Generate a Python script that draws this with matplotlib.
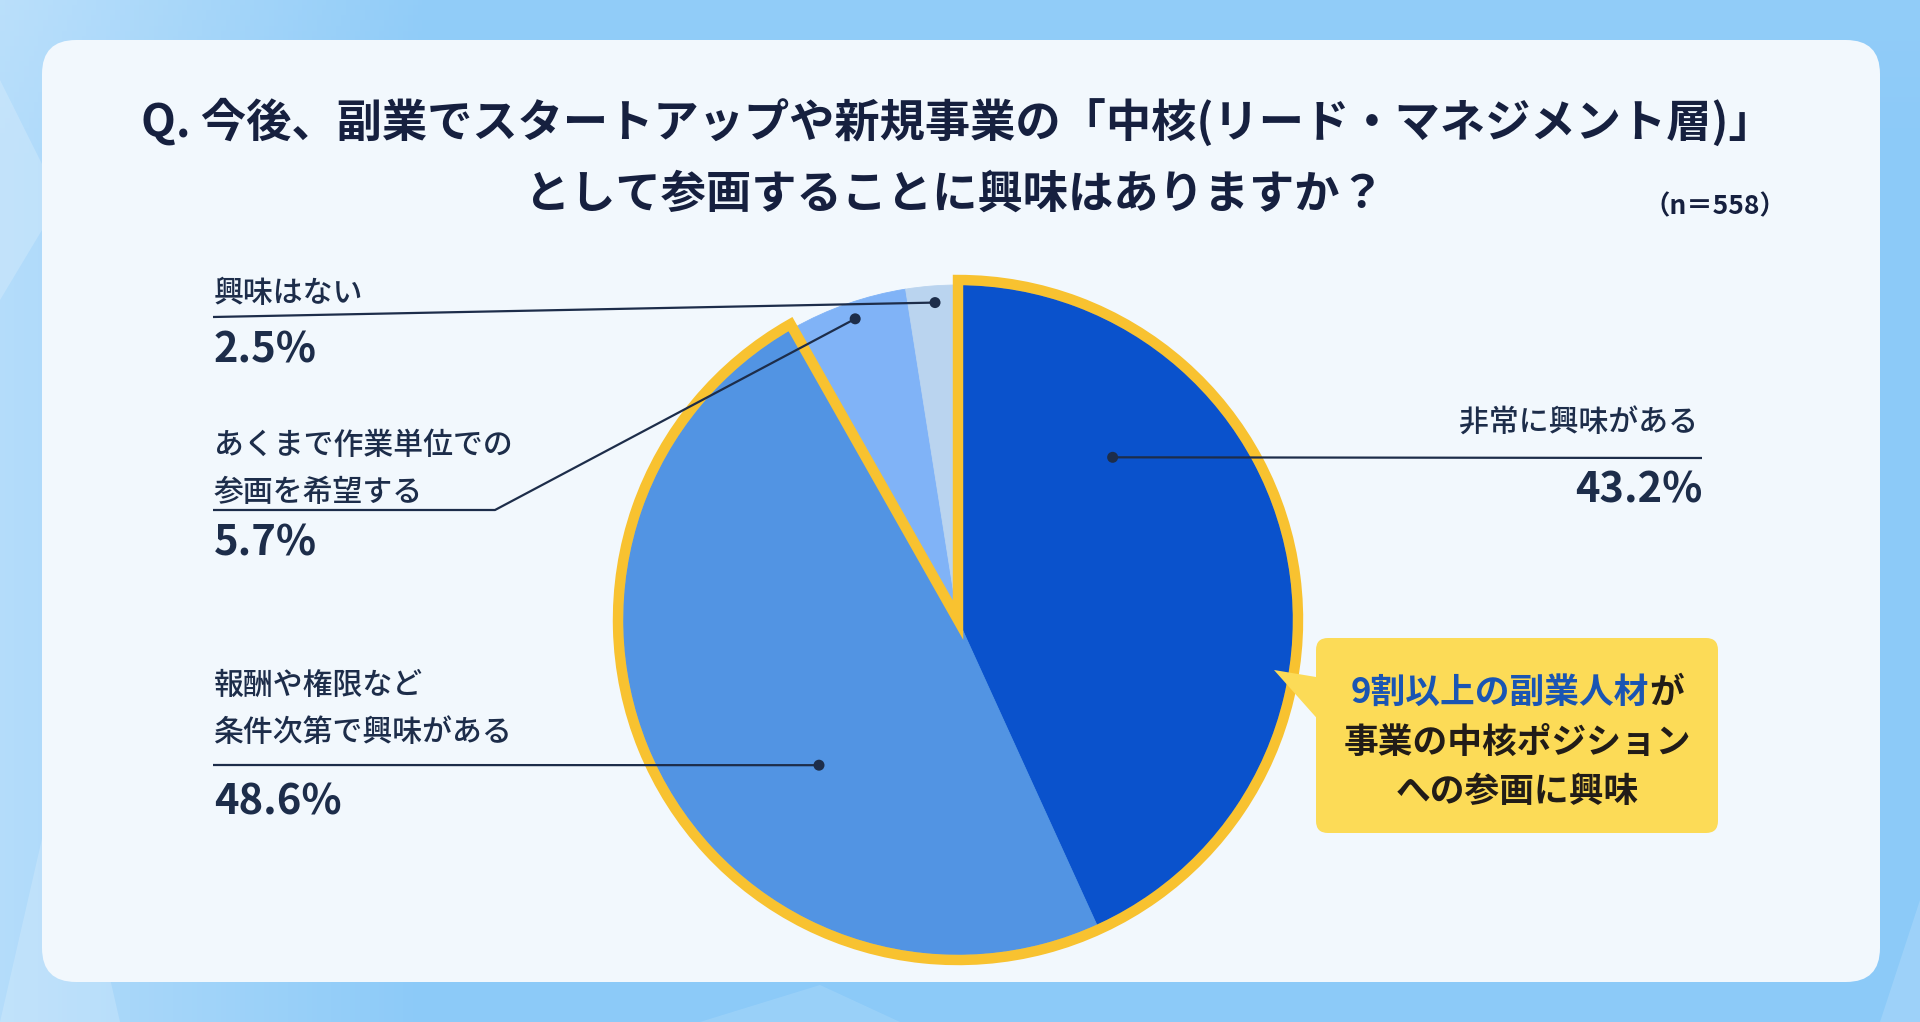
import numpy as np
import matplotlib
matplotlib.use("Agg")
import matplotlib.pyplot as plt
from matplotlib.patches import FancyBboxPatch, Wedge, Polygon, Circle

plt.rcParams["font.family"] = ["Noto Sans CJK JP", "DejaVu Sans"]

W, H = 1920, 1022

# data
CATEGORIES = [
    ["非常に興味がある"],
    ["報酬や権限など", "条件次第で興味がある"],
    ["あくまで作業単位での", "参画を希望する"],
    ["興味はない"],
]
SHARES = [43.2, 48.6, 5.7, 2.5]
SLICE_COLORS = ["#0a52cc", "#5294e3", "#80b3f7", "#bad4ef"]
TITLE_LINES = [
    "Q. 今後、副業でスタートアップや新規事業の「中核(リード・マネジメント層)」",
    "として参画することに興味はありますか？",
]
SAMPLE_NOTE = "（n＝558）"
CALLOUT_HIGHLIGHT = "9割以上の副業人材"
CALLOUT_LINES = ["が", "事業の中核ポジション", "への参画に興味"]

NAVY = "#16203f"
TEXT = "#1d2d4a"
YELLOW = "#f8c230"

# layout (pixels from the top-left corner)
CX, CY, R = 958, 620, 335
# where each leader dot sits: fraction along the slice, fraction of radius
DOT_POS = [(0.72, 0.67), (0.61, 0.60), (0.48, 0.95), (0.46, 0.95)]
# label blocks: text x, first text line y, line y, percent y, side
LABEL_POS = [
    (1698, 423, 458, 490, "right"),
    (214, 685, 765, 802, "left"),
    (214, 445, 510, 543, "left"),
    (214, 293, 317, 350, "left"),
]
ELBOW_X = {2: 495}


def Y(y):
    return H - y


fig = plt.figure(figsize=(W / 100, H / 100), dpi=100)
ax = fig.add_axes([0, 0, 1, 1])

# outer background
gx = np.linspace(0, 1, 400)
gy = np.linspace(0, 1, 200)
XX, YY = np.meshgrid(gx, gy)
base = np.array([0x8c, 0xca, 0xf8]) / 255
t = np.clip(1 - XX / 0.22, 0, 1) * 0.35 + np.clip(1 - YY / 0.15, 0, 1) * 0.05
bg = base[None, None, :] * (1 - t[..., None]) + t[..., None]
ax.imshow(bg, extent=(0, W, 0, H), origin="upper", aspect="auto", zorder=0)
for pts, a in [
    ([(0, 1022), (120, 1022), (60, 760)], 0.18),
    ([(0, 300), (60, 200), (0, 80)], 0.2),
    ([(1880, 1022), (1920, 1022), (1920, 900)], 0.15),
    ([(700, 1022), (900, 1022), (820, 985)], 0.12),
]:
    ax.add_patch(Polygon([(x, Y(y)) for x, y in pts], closed=True, fc="white",
                         ec="none", alpha=a, zorder=0.5))

# white panel
ax.add_patch(FancyBboxPatch((42, Y(982)), 1838, 942,
                            boxstyle="round,pad=0,rounding_size=34",
                            fc="#f2f8fd", ec="none", zorder=1))

# title
ax.text(957, Y(123), TITLE_LINES[0], ha="center", va="center", fontsize=32.6,
        fontweight="bold", color=NAVY, zorder=5)
ax.text(955, Y(195), TITLE_LINES[1], ha="center", va="center", fontsize=32.6,
        fontweight="bold", color=NAVY, zorder=5)
ax.text(1786, Y(207), SAMPLE_NOTE, ha="right", va="center", fontsize=19,
        fontweight="bold", color=NAVY, zorder=5)

# pie
wedges, _ = ax.pie(SHARES, colors=SLICE_COLORS, startangle=90, counterclock=False,
                   center=(CX, Y(CY)), radius=R, frame=True,
                   wedgeprops=dict(linewidth=0.6, zorder=2))
for w, c in zip(wedges, SLICE_COLORS):
    w.set_edgecolor(c)
    w.set_zorder(2)

# yellow outline around the two "interested" slices
ax.add_patch(Wedge((CX, Y(CY)), R + 5, wedges[1].theta1, wedges[0].theta2,
                   fill=False, ec=YELLOW, lw=7.5, joinstyle="miter", zorder=3))

# leaders and labels
for i, w in enumerate(wedges):
    fa, fr = DOT_POS[i]
    ang = np.deg2rad(w.theta1 + fa * (w.theta2 - w.theta1))
    dx = CX + fr * R * np.cos(ang)
    dy = Y(CY) + fr * R * np.sin(ang)
    tx, ty, ly, py, side = LABEL_POS[i]
    if side == "right":
        xs, ys = [dx, tx + 4], [dy, Y(ly)]
    elif i in ELBOW_X:
        xs, ys = [tx - 1, ELBOW_X[i], dx], [Y(ly), Y(ly), dy]
    else:
        xs, ys = [tx - 1, dx], [Y(ly), dy]
    ax.plot(xs, ys, color=TEXT, lw=1.6, zorder=6, solid_capstyle="butt")
    ax.add_patch(Circle((dx, dy), 5.5, fc=TEXT, ec="none", zorder=7))
    for k, line in enumerate(CATEGORIES[i]):
        ax.text(tx, Y(ty + k * 47), line, ha=side, va="center", fontsize=21.5,
                fontweight="medium", color=TEXT, zorder=6)
    ax.text(tx + (5 if side == "right" else 0), Y(py), f"{SHARES[i]:.1f}%",
            ha=side, va="center", fontsize=30, fontweight="bold", color=TEXT, zorder=6)

# callout
ax.add_patch(FancyBboxPatch((1316, Y(833)), 402, 195,
                            boxstyle="round,pad=0,rounding_size=12",
                            fc="#fcdb57", ec="none", zorder=4))
ax.add_patch(Polygon([(1274, Y(670)), (1322, Y(678)), (1322, Y(724))],
                     closed=True, fc="#fcdb57", ec="none", zorder=4))

ax.set_xlim(0, W)
ax.set_ylim(0, H)
ax.set_aspect("auto")
ax.axis("off")

renderer = fig.canvas.get_renderer()
box_cx = 1517
fs_call = 25
tmp = ax.text(0, 0, CALLOUT_HIGHLIGHT + CALLOUT_LINES[0], fontsize=fs_call, fontweight="bold")
tw = tmp.get_window_extent(renderer).width
tmp.remove()
blue = ax.text(box_cx - tw / 2, Y(692), CALLOUT_HIGHLIGHT, ha="left", va="center",
               fontsize=fs_call, fontweight="bold", color="#1a55b3", zorder=6)
bw = blue.get_window_extent(renderer).width
ax.text(box_cx - tw / 2 + bw, Y(692), CALLOUT_LINES[0], ha="left", va="center",
        fontsize=fs_call, fontweight="bold", color="#211c18", zorder=6)
ax.text(box_cx, Y(742), CALLOUT_LINES[1], ha="center", va="center",
        fontsize=fs_call, fontweight="bold", color="#211c18", zorder=6)
ax.text(box_cx, Y(791), CALLOUT_LINES[2], ha="center", va="center",
        fontsize=fs_call, fontweight="bold", color="#211c18", zorder=6)

fig.savefig("out.png", dpi=100)
